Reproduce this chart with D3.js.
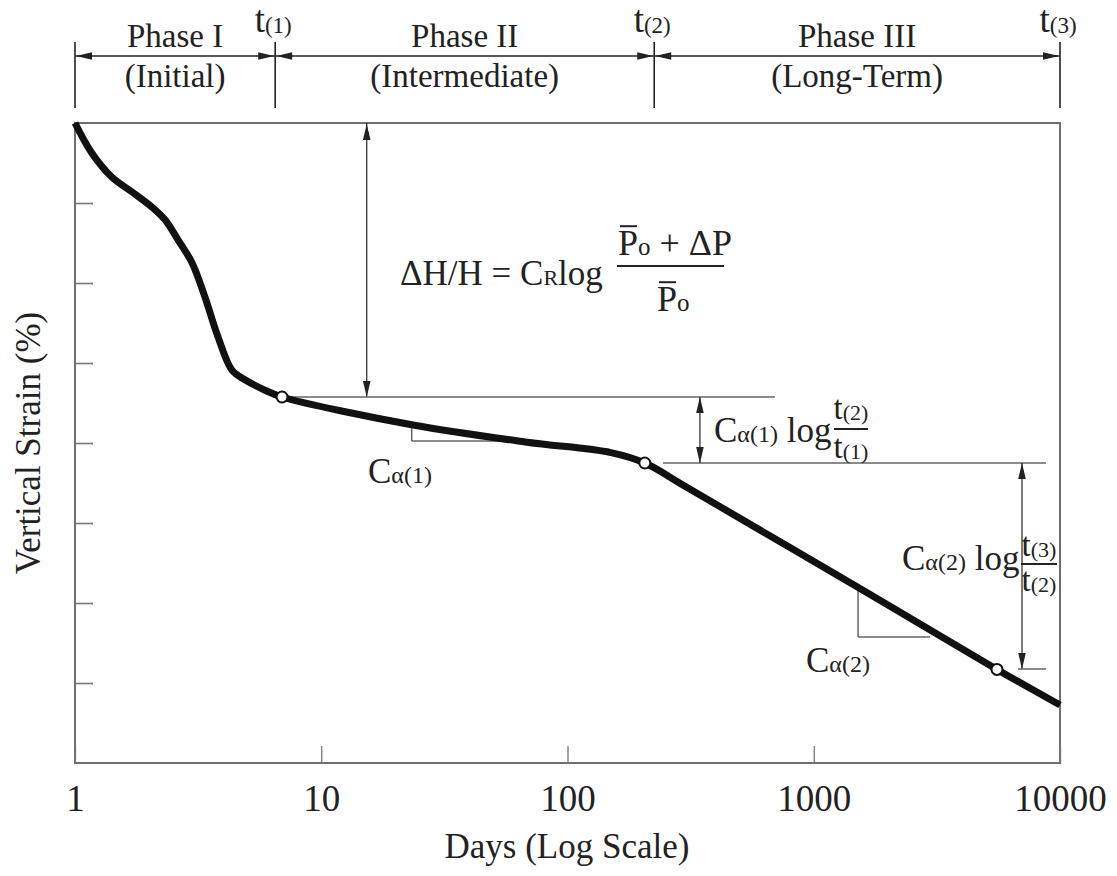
<!doctype html>
<html lang="en">
  <head>
    <meta charset="utf-8">
    <title>Secondary compression phases</title>
    <style>
      body{ margin: 0; background: #fff; }
      svg text{ font-family: "Liberation Serif", "Times New Roman", serif; fill: #222; }
    </style>
  </head>
  <body>
    <svg id="chart" width="1117" height="876"></svg>
    <script src="https://d3js.org/d3.v7.min.js"></script>
    <script>

      //the consolidation curve (days, vertical strain in chart units)
      var curveDays   = [1, 1.17, 1.41, 1.70, 2.05, 2.32, 2.62, 2.99, 3.37, 3.81, 4.34, 4.90, 5.91, 6.93, 23.6, 68.5, 150, 206, 300, 1541, 5547, 10000];
      var curveStrain = [0, 0.375, 0.675, 0.86, 1.05, 1.21, 1.46, 1.75, 2.175, 2.675, 3.09, 3.21, 3.34, 3.425, 3.775, 3.99, 4.12, 4.25, 4.54, 5.82, 6.83, 7.275];

      //open circles at t(1), t(2), t(3)
      var markerDays   = [6.93, 206, 5547];
      var markerStrain = [3.425, 4.25, 6.83];

      //phase header
      var phaseBounds = [1, 6.5, 225, 10000];
      var phaseNames  = ["Phase I", "Phase II", "Phase III"];
      var phaseSubs   = ["(Initial)", "(Intermediate)", "(Long-Term)"];
      var boundSubs   = ["(1)", "(2)", "(3)"];

      //axis ticks
      var dayTicks    = [1, 10, 100, 1000, 10000];
      var strainTicks = [1, 2, 3, 4, 5, 6, 7];

      var svg = d3.select("#chart");
      var ink = "#222";
      var guide = "#666";

      var x = d3.scaleLog().domain([1, 10000]).range([75, 1060]);
      var y = d3.scaleLinear().domain([0, 8]).range([123, 763]);

      //small filled arrow head with its tip at (px,py)
      function head(g, px, py, dir){
        var L = 16, w = 3.8, pts;
        if(dir == "up")    pts = [[px,py],[px-w,py+L],[px+w,py+L]];
        if(dir == "down")  pts = [[px,py],[px-w,py-L],[px+w,py-L]];
        if(dir == "left")  pts = [[px,py],[px+L,py-w],[px+L,py+w]];
        if(dir == "right") pts = [[px,py],[px-L,py-w],[px-L,py+w]];
        g.append("polygon").attr("points", pts.join(" ")).attr("fill", ink);
      }

      function line(g, x1, y1, x2, y2, color, width){
        return g.append("line")
          .attr("x1", x1).attr("y1", y1).attr("x2", x2).attr("y2", y2)
          .attr("stroke", color || guide).attr("stroke-width", width || 1.5);
      }

      //text made of runs with different sizes, shifts and overlines
      function rich(g, px, py, runs, anchor){
        var t = g.append("text").attr("x", px).attr("y", py).attr("text-anchor", anchor || "start");
        var prev = 0, idx = 0, overs = [];
        runs.forEach(function(r){
          var shift = r.shift || 0;
          t.append("tspan").attr("font-size", r.size).attr("dy", shift - prev).text(r.text);
          prev = shift;
          if(r.over) overs.push({i: idx, size: r.size, base: py + shift});
          idx += r.text.length;
        });
        overs.forEach(function(o){
          var e = t.node().getExtentOfChar(o.i);
          line(g, e.x + 2, o.base - 0.8 * o.size, e.x + e.width - 1, o.base - 0.8 * o.size, ink, 2);
        });
        return t;
      }

      //---- phase header
      var header = svg.append("g");
      line(header, x(1), 56, x(10000), 56, ink, 1.6);
      phaseBounds.forEach(function(d){
        line(header, x(d), 42, x(d), 108, ink, 1.6);
      });
      phaseNames.forEach(function(name, i){
        var a = x(phaseBounds[i]), b = x(phaseBounds[i+1]);
        head(header, a + 1, 56, "left");
        head(header, b - 1, 56, "right");
        header.append("text").attr("x", (a+b)/2).attr("y", 47).attr("text-anchor", "middle")
          .attr("font-size", 33).text(name);
        header.append("text").attr("x", (a+b)/2).attr("y", 87).attr("text-anchor", "middle")
          .attr("font-size", 33).text(phaseSubs[i]);
      });
      boundSubs.forEach(function(s, i){
        rich(header, x(phaseBounds[i+1]) - 2, 32, [{text: "t", size: 37}, {text: s, size: 23, shift: 1}], "middle");
      });

      //---- frame and axes
      svg.append("rect")
        .attr("x", x(1)).attr("y", y(0))
        .attr("width", x(10000) - x(1)).attr("height", y(8) - y(0))
        .attr("fill", "none").attr("stroke", "#6e6e6e").attr("stroke-width", 2);

      var yAxis = svg.append("g")
        .attr("transform", "translate(" + x(1) + ",0)")
        .call(d3.axisLeft(y).tickValues(strainTicks).tickSizeInner(-18).tickSizeOuter(0).tickFormat(""));
      yAxis.select(".domain").remove();
      yAxis.selectAll(".tick line").attr("stroke", "#777").attr("stroke-width", 1.6);

      var xAxis = svg.append("g")
        .attr("transform", "translate(0," + y(8) + ")")
        .call(d3.axisBottom(x).tickValues(dayTicks).tickSizeInner(-17).tickSizeOuter(0).tickPadding(22).tickFormat(d3.format("d")));
      xAxis.select(".domain").remove();
      xAxis.selectAll(".tick line").attr("stroke", "#777").attr("stroke-width", 1.3);
      xAxis.selectAll(".tick text").attr("font-size", 37).attr("fill", ink);

      svg.append("text").attr("x", 567).attr("y", 858).attr("text-anchor", "middle")
        .attr("font-size", 35).text("Days (Log Scale)");
      svg.append("text").attr("transform", "translate(40,443) rotate(-90)").attr("text-anchor", "middle")
        .attr("font-size", 35).text("Vertical Strain (%)");

      //---- construction lines
      var notes = svg.append("g");

      //delta H arrow from the top of the frame to the t(1) level
      line(notes, x(15.3), y(0), x(15.3), y(3.425), ink, 1.2);
      head(notes, x(15.3), y(0) + 1, "up");
      head(notes, x(15.3), y(3.425), "down");
      line(notes, x(6.93), y(3.425), x(696), y(3.425));

      //slope triangle one
      line(notes, x(23.3), y(3.76), x(23.3), y(3.975));
      line(notes, x(23.3), y(3.975), x(61.2), y(3.975));

      //t(2) level and the C alpha(1) arrow
      line(notes, x(244), y(4.25), x(8770), y(4.25));
      line(notes, x(345), y(3.425), x(345), y(4.25), ink, 1.2);
      head(notes, x(345), y(3.425), "up");
      head(notes, x(345), y(4.25), "down");

      //C alpha(2) arrow down to t(3)
      line(notes, x(7010), y(4.25), x(7010), y(6.825), ink, 1.2);
      head(notes, x(7010), y(4.25), "up");
      head(notes, x(7010), y(6.825), "down");
      line(notes, x(6754), y(6.825), x(8770), y(6.825));

      //slope triangle two
      line(notes, x(1513), y(5.84), x(1513), y(6.425));
      line(notes, x(1513), y(6.425), x(2966), y(6.425));

      //---- the curve
      var path = d3.line()
        .x(function(d){ return x(d[0]); })
        .y(function(d){ return y(d[1]); })
        .curve(d3.curveCatmullRom.alpha(0.5));

      svg.append("path")
        .datum(curveDays.map(function(d, i){ return [d, curveStrain[i]]; }))
        .attr("d", path)
        .attr("fill", "none").attr("stroke", "#111").attr("stroke-width", 7)
        .attr("stroke-linecap", "butt").attr("stroke-linejoin", "round");

      svg.selectAll("circle.mark")
        .data(markerDays)
        .enter()
        .append("circle")
        .attr("class", "mark")
        .attr("cx", function(d){ return x(d); })
        .attr("cy", function(d, i){ return y(markerStrain[i]); })
        .attr("r", 5.5)
        .attr("fill", "#fff").attr("stroke", "#111").attr("stroke-width", 2);

      //---- formulas
      var text = svg.append("g");

      rich(text, 400, 285, [{text: "\u0394H/H = C", size: 35}, {text: "R", size: 22}, {text: "log", size: 35}]);
      line(text, 617, 266, 724, 266, ink, 2);
      rich(text, 618, 255, [{text: "P", size: 36, over: true}, {text: "o", size: 25}, {text: " + \u0394P", size: 36}]);
      rich(text, 657, 311, [{text: "P", size: 36, over: true}, {text: "o", size: 25}]);

      rich(text, 714, 442, [{text: "C", size: 35}, {text: "\u03b1(1)", size: 24}, {text: " log", size: 35}]);
      line(text, 834, 429, 868, 429, ink, 2);
      rich(text, 851, 419, [{text: "t", size: 33}, {text: "(2)", size: 22, shift: 1}], "middle");
      rich(text, 851, 458, [{text: "t", size: 33}, {text: "(1)", size: 22, shift: 1}], "middle");

      rich(text, 902, 570, [{text: "C", size: 35}, {text: "\u03b1(2)", size: 24}, {text: " log", size: 35}]);
      line(text, 1021, 564, 1057, 564, ink, 2);
      rich(text, 1039, 556, [{text: "t", size: 33}, {text: "(3)", size: 22, shift: 1}], "middle");
      rich(text, 1039, 591, [{text: "t", size: 33}, {text: "(2)", size: 22, shift: 1}], "middle");

      rich(text, 368, 483, [{text: "C", size: 35}, {text: "\u03b1(1)", size: 24}]);
      rich(text, 806, 672, [{text: "C", size: 35}, {text: "\u03b1(2)", size: 24}]);

    </script>
  </body>
</html>
